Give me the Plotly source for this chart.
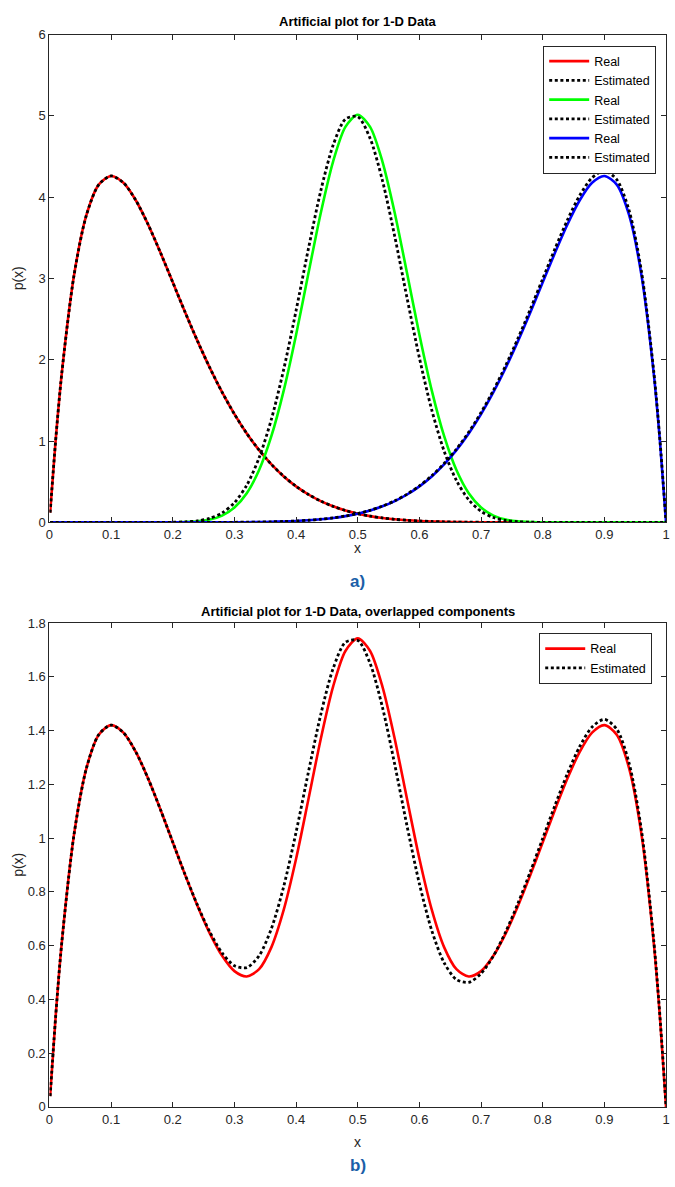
import plotly.graph_objects as go

# ---------------- data ----------------
x_vals = [0.0011, 0.01, 0.02, 0.04, 0.06, 0.08, 0.10, 0.12, 0.14, 0.16, 0.18,
          0.20, 0.22, 0.24, 0.26, 0.28, 0.30, 0.32, 0.34, 0.36, 0.38,
          0.40, 0.42, 0.44, 0.46, 0.48, 0.50, 0.52, 0.54, 0.56, 0.58,
          0.60, 0.62, 0.64, 0.66, 0.68, 0.70, 0.72, 0.74, 0.76, 0.78,
          0.80, 0.82, 0.84, 0.86, 0.88, 0.90, 0.92, 0.94, 0.96, 0.98,
          0.99, 1.00]

red_real = [0.120, 1.0049, 1.8343, 3.0471, 3.7818, 4.1550, 4.2616, 4.1774, 3.9629, 3.6647, 3.3189,
            2.9528, 2.5860, 2.2330, 1.9028, 1.6017, 1.3317, 1.0942, 0.8888, 0.7134, 0.5658,
            0.4434, 0.3432, 0.2622, 0.1976, 0.1468, 0.1074, 0.0774, 0.0548, 0.0381, 0.0260,
            0.0173, 0.0113, 0.0072, 0.0044, 0.0026, 0.0015, 0.0008, 0.0004, 0.0002, 0.0001,
            0.0, 0.0, 0.0, 0.0, 0.0, 0.0, 0.0, 0.0, 0.0, 0.0,
            0.0, 0.0]
red_est = [0.120, 1.0049, 1.8343, 3.0471, 3.7818, 4.1550, 4.2616, 4.1774, 3.9629, 3.6647, 3.3189,
           2.9528, 2.5860, 2.2330, 1.9028, 1.6017, 1.3317, 1.0942, 0.8888, 0.7134, 0.5658,
           0.4434, 0.3432, 0.2622, 0.1976, 0.1468, 0.1074, 0.0774, 0.0548, 0.0381, 0.0260,
           0.0173, 0.0113, 0.0072, 0.0044, 0.0026, 0.0015, 0.0008, 0.0004, 0.0002, 0.0001,
           0.0, 0.0, 0.0, 0.0, 0.0, 0.0, 0.0, 0.0, 0.0, 0.0,
           0.0, 0.0]
green_real = [0.0, 0.0, 0.0, 0.0, 0.0, 0.0, 0.0, 0.0, 0.0, 0.0, 0.0002,
              0.0010, 0.0039, 0.0126, 0.0346, 0.0841, 0.1826, 0.3589, 0.6441, 1.0631, 1.6246,
              2.3091, 3.0640, 3.8070, 4.4391, 4.8648, 5.0150, 4.8648, 4.4391, 3.8070, 3.0640,
              2.3091, 1.6246, 1.0631, 0.6441, 0.3589, 0.1826, 0.0841, 0.0346, 0.0126, 0.0039,
              0.0010, 0.0002, 0.0, 0.0, 0.0, 0.0, 0.0, 0.0, 0.0, 0.0,
              0.0, 0.0]
green_est = [0.0, 0.0, 0.0, 0.0, 0.0, 0.0, 0.0, 0.0, 0.0, 0.0001, 0.0004,
             0.0018, 0.0064, 0.0192, 0.0501, 0.1162, 0.2423, 0.4583, 0.7945, 1.2713, 1.8859,
             2.6066, 3.3679, 4.0789, 4.6388, 4.9604, 4.9907, 4.7245, 4.2060, 3.5174, 2.7583,
             2.0230, 1.3835, 0.8783, 0.5152, 0.2770, 0.1356, 0.0597, 0.0235, 0.0081, 0.0024,
             0.0006, 0.0, 0.0, 0.0, 0.0, 0.0, 0.0, 0.0, 0.0, 0.0,
             0.0, 0.0]
blue_real = [0.0, 0.0, 0.0, 0.0, 0.0, 0.0, 0.0, 0.0, 0.0, 0.0, 0.0,
             0.0, 0.0001, 0.0002, 0.0004, 0.0008, 0.0015, 0.0026, 0.0044, 0.0072, 0.0113,
             0.0173, 0.0260, 0.0381, 0.0548, 0.0774, 0.1074, 0.1468, 0.1976, 0.2622, 0.3432,
             0.4434, 0.5658, 0.7134, 0.8888, 1.0942, 1.3317, 1.6017, 1.9028, 2.2330, 2.5860,
             2.9528, 3.3189, 3.6647, 3.9629, 4.1774, 4.2616, 4.1550, 3.7818, 3.0471, 1.8343,
             1.0049, 0.0]
blue_est = [0.0, 0.0, 0.0, 0.0, 0.0, 0.0, 0.0, 0.0, 0.0, 0.0, 0.0,
            0.0, 0.0001, 0.0002, 0.0004, 0.0008, 0.0015, 0.0026, 0.0045, 0.0073, 0.0115,
            0.0176, 0.0264, 0.0387, 0.0556, 0.0786, 0.1090, 0.1490, 0.2006, 0.2661, 0.3483,
            0.4501, 0.5743, 0.7241, 0.9021, 1.1106, 1.3517, 1.6257, 1.9313, 2.2665, 2.6248,
            2.9971, 3.3687, 3.7197, 4.0223, 4.2401, 4.3255, 4.2173, 3.8385, 3.0928, 1.8618,
            1.0200, 0.0]

mix_real = [0.040, 0.3350, 0.6114, 1.0157, 1.2606, 1.3850, 1.4205, 1.3925, 1.3210, 1.2216, 1.1064,
            0.9846, 0.8633, 0.7486, 0.6459, 0.5622, 0.5053, 0.4852, 0.5124, 0.5946, 0.7339,
            0.9233, 1.1444, 1.3691, 1.5638, 1.6963, 1.7433, 1.6963, 1.5638, 1.3691, 1.1444,
            0.9233, 0.7339, 0.5946, 0.5124, 0.4852, 0.5053, 0.5622, 0.6459, 0.7486, 0.8633,
            0.9846, 1.1064, 1.2216, 1.3210, 1.3925, 1.4205, 1.3850, 1.2606, 1.0157, 0.6114,
            0.3350, 0.0]
mix_est = [0.040, 0.3350, 0.6114, 1.0157, 1.2606, 1.3850, 1.4205, 1.3925, 1.3210, 1.2216, 1.1064,
           0.9849, 0.8642, 0.7508, 0.6511, 0.5729, 0.5252, 0.5184, 0.5626, 0.6640, 0.8211,
           1.0225, 1.2458, 1.4599, 1.6307, 1.7286, 1.7357, 1.6503, 1.4871, 1.2739, 1.0442,
           0.8301, 0.6564, 0.5365, 0.4739, 0.4634, 0.4963, 0.5621, 0.6517, 0.7583, 0.8758,
           0.9992, 1.1229, 1.2399, 1.3408, 1.4134, 1.4418, 1.4058, 1.2795, 1.0309, 0.6206,
           0.3400, 0.0]

x_ticks = [0, 0.1, 0.2, 0.3, 0.4, 0.5, 0.6, 0.7, 0.8, 0.9, 1]
x_tick_text = ["0", "0.1", "0.2", "0.3", "0.4", "0.5", "0.6", "0.7", "0.8", "0.9", "1"]
y1_ticks = [0, 1, 2, 3, 4, 5, 6]
y2_ticks = [0, 0.2, 0.4, 0.6, 0.8, 1.0, 1.2, 1.4, 1.6, 1.8]
y2_tick_text = ["0", "0.2", "0.4", "0.6", "0.8", "1", "1.2", "1.4", "1.6", "1.8"]

# ---------------- figure ----------------
W, H = 675, 1187
FONT = "Liberation Sans, Arial, Helvetica, sans-serif"
AX = "#262626"

def py(px):  # pixel from top -> paper y
    return 1 - px / H

def pxx(px):
    return px / W

fig = go.Figure()

real_w = 2.6
est_w = 2.8
dot = "3px,2.6px"

top_series = [
    ("Real", red_real, "#ff0000", "solid", real_w),
    ("Estimated", red_est, "#000000", dot, est_w),
    ("Real", green_real, "#00ff00", "solid", real_w),
    ("Estimated", green_est, "#000000", dot, est_w),
    ("Real", blue_real, "#0000ff", "solid", real_w),
    ("Estimated", blue_est, "#000000", dot, est_w),
]
for name, ys, col, dash, w in top_series:
    fig.add_trace(go.Scatter(
        x=x_vals, y=ys, mode="lines", name=name,
        line=dict(color=col, width=w, dash=dash, shape="spline", smoothing=0.8),
        xaxis="x", yaxis="y", legend="legend"))

bottom_series = [
    ("Real", mix_real, "#ff0000", "solid", real_w),
    ("Estimated", mix_est, "#000000", dot, est_w),
]
for name, ys, col, dash, w in bottom_series:
    fig.add_trace(go.Scatter(
        x=x_vals, y=ys, mode="lines", name=name,
        line=dict(color=col, width=w, dash=dash, shape="spline", smoothing=0.8),
        xaxis="x2", yaxis="y2", legend="legend2"))

x_dom = [pxx(46), pxx(670)]
top_dom = [py(522), py(28)]
bot_dom = [py(1114), py(624)]

axis_common = dict(
    showline=True, linecolor=AX, linewidth=1, mirror="ticks",
    ticks="inside", ticklen=5, tickcolor=AX, tickwidth=1,
    showgrid=False, zeroline=False,
    tickfont=dict(family=FONT, size=13, color=AX),
)

fig.update_layout(
    width=W, height=H,
    margin=dict(l=0, r=0, t=0, b=0),
    paper_bgcolor="white", plot_bgcolor="white",
    font=dict(family=FONT, size=12, color=AX),
    xaxis=dict(domain=x_dom, range=[0, 1], anchor="y",
               tickvals=x_ticks, ticktext=x_tick_text, **axis_common),
    yaxis=dict(domain=top_dom, range=[0, 6], anchor="x",
               tickvals=y1_ticks, **axis_common),
    xaxis2=dict(domain=x_dom, range=[0, 1], anchor="y2",
                tickvals=x_ticks, ticktext=x_tick_text, **axis_common),
    yaxis2=dict(domain=bot_dom, range=[0, 1.8], anchor="x2",
                tickvals=y2_ticks, ticktext=y2_tick_text, **axis_common),
    legend=dict(x=pxx(660), y=py(39), xanchor="right", yanchor="top",
                bgcolor="white", bordercolor=AX, borderwidth=1,
                font=dict(family=FONT, size=12.5, color="#000000"),
                tracegroupgap=0, itemwidth=40),
    legend2=dict(x=pxx(656), y=py(634), xanchor="right", yanchor="top",
                 bgcolor="white", bordercolor=AX, borderwidth=1,
                 font=dict(family=FONT, size=12.5, color="#000000"),
                 tracegroupgap=0, itemwidth=40),
    showlegend=True,
)

cx = pxx(358)
annotations = [
    dict(text="<b>Artificial plot for 1-D Data</b>", x=cx, y=py(15), size=13, color="#000000"),
    dict(text="<b>Artificial plot for 1-D Data, overlapped components</b>", x=cx, y=py(612), size=13, color="#000000"),
    dict(text="x", x=cx, y=py(548), size=14, color=AX),
    dict(text="x", x=cx, y=py(1150), size=14, color=AX),
    dict(text="<b>a)</b>", x=cx, y=py(582), size=17, color="#1b5fa8"),
    dict(text="<b>b)</b>", x=cx, y=py(1173), size=17, color="#1b5fa8"),
]
for a in annotations:
    fig.add_annotation(text=a["text"], x=a["x"], y=a["y"], xref="paper", yref="paper",
                       xanchor="center", yanchor="middle", showarrow=False,
                       font=dict(family=FONT, size=a["size"], color=a["color"]))

for yc in (py(275), py(869)):
    fig.add_annotation(text="p(x)", x=pxx(14), y=yc, xref="paper", yref="paper",
                       xanchor="center", yanchor="middle", showarrow=False, textangle=-90,
                       font=dict(family=FONT, size=14, color=AX))

fig.write_html("out.html")
